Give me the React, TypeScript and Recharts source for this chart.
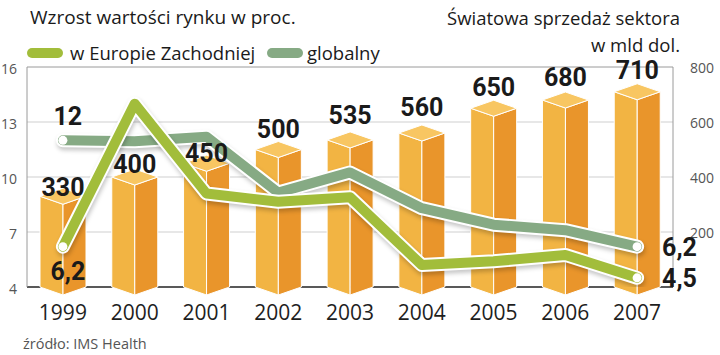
import React from 'react';
import { ComposedChart, Bar, Line, XAxis, YAxis, CartesianGrid, LabelList } from 'recharts';

const years = ['1999', '2000', '2001', '2002', '2003', '2004', '2005', '2006', '2007'];
const salesBn = [330, 400, 450, 500, 535, 560, 650, 680, 710];
const growthWestEurope = [6.2, 14, 9.1, 8.65, 8.9, 5.2, 5.4, 5.75, 4.5];
const growthGlobal = [12, 11.95, 12.2, 9.15, 10.25, 8.3, 7.4, 7.1, 6.2];
const leftTicks = [4, 7, 10, 13, 16];
const rightTicks = [200, 400, 600, 800];

const data = years.map((year, i) => ({
  year,
  sales: salesBn[i],
  europe: growthWestEurope[i],
  global: growthGlobal[i],
}));

// layout constants (label gaps above bars)
const barLabelGap = [0, 4, 1, 12, 16, 17, 12, 14, 13];

const FONT = "'Open Sans', Roboto, 'Liberation Sans', Arial, sans-serif";
const BOLD = "Roboto, 'Liberation Sans', Arial, sans-serif";
const EUROPE = '#A2BD3B';
const GLOBAL = '#86AA84';
const LAST = years.length - 1;

const fmt = (v: number) => String(v).replace('.', ',');

const Box3D = (props: any) => {
  const { x, y, width, height } = props;
  if (width == null || height == null) return null;
  const d = 8;
  const cx = x + width / 2;
  const base = y + height;
  const r = x + width;
  return (
    <g>
      <polygon
        points={`${x},${y} ${cx},${y + d} ${cx},${base + d} ${x},${base}`}
        fill="#F2B443"
        stroke="#fff"
        strokeWidth={1}
      />
      <polygon
        points={`${cx},${y + d} ${r},${y} ${r},${base} ${cx},${base + d}`}
        fill="#E9952B"
        stroke="#fff"
        strokeWidth={1}
      />
      <polygon
        points={`${x},${y} ${cx},${y - d} ${r},${y} ${cx},${y + d}`}
        fill="#F8C662"
        stroke="#fff"
        strokeWidth={1}
      />
    </g>
  );
};

const BarLabel = (p: any) => {
  const { x, y, width, value, index } = p;
  return (
    <text
      x={x + width / 2}
      y={y - barLabelGap[index]}
      textAnchor="middle"
      fontFamily={BOLD}
      fontWeight={700}
      fontSize={25}
      fill="#1a1a1a"
    >
      {value}
    </text>
  );
};

const makeLineLabel = (above: boolean) => (p: any) => {
  const { x, y, value, index } = p;
  if (index === 0) {
    return (
      <text
        x={x + 5}
        y={above ? y - 15 : y + 33}
        textAnchor="middle"
        fontFamily={BOLD}
        fontWeight={700}
        fontSize={25}
        fill="#1a1a1a"
      >
        {fmt(value)}
      </text>
    );
  }
  if (index === LAST) {
    return (
      <text
        x={x + 25}
        y={y + 9}
        textAnchor="start"
        fontFamily={BOLD}
        fontWeight={700}
        fontSize={25}
        fill="#1a1a1a"
      >
        {fmt(value)}
      </text>
    );
  }
  return null;
};

const endDot = (p: any) => {
  const { cx, cy, index } = p;
  if (index === 0 || index === LAST) {
    return <circle key={`d${index}`} cx={cx} cy={cy} r={4.5} fill="#fff" stroke="none" />;
  }
  return <g key={`d${index}`} />;
};

const LeftTick = (p: any) => (
  <text x={p.x - 10} y={p.y + 7} textAnchor="end" fontFamily={FONT} fontSize={14} fill="#555">
    {p.payload.value}
  </text>
);

const RightTick = (p: any) => (
  <text x={p.x + 17} y={p.y + 6} textAnchor="start" fontFamily={FONT} fontSize={14} fill="#555">
    {p.payload.value}
  </text>
);

const XTick = (p: any) => (
  <text x={p.x} y={p.y + 33} textAnchor="middle" fontFamily={FONT} fontSize={21} fontWeight={500} fill="#1e1e1e">
    {p.payload.value}
  </text>
);

const shadow = { filter: 'drop-shadow(1px 3px 2px rgba(0,0,0,0.22))' };

export default function App() {
  return (
    <div style={{ position: 'absolute', left: 0, top: 0, width: 720, height: 355, background: '#fff' }}>
      <ComposedChart
        width={720}
        height={355}
        data={data}
        margin={{ top: 67, right: 0, bottom: 38, left: 0 }}
        barCategoryGap={0}
      >
        <CartesianGrid yAxisId="left" vertical={false} horizontalValues={[7, 10, 13]} stroke="#cfcfcf" />
        <CartesianGrid yAxisId="left" vertical={false} horizontalValues={[16]} stroke="#9a9a9a" />
        <CartesianGrid yAxisId="left" vertical={false} horizontalValues={[4]} stroke="#222" strokeWidth={1.5} />
        <XAxis dataKey="year" axisLine={false} tickLine={false} tickSize={0} tickMargin={0} height={30} tick={<XTick />} interval={0} />
        <YAxis
          yAxisId="left"
          orientation="left"
          domain={[4, 16]}
          ticks={leftTicks}
          width={27}
          axisLine={{ stroke: '#9a9a9a' }}
          tickLine={false}
          tickSize={0}
          tickMargin={0}
          tick={<LeftTick />}
          allowDataOverflow
        />
        <YAxis
          yAxisId="right"
          orientation="right"
          domain={[0, 800]}
          ticks={rightTicks}
          width={47}
          axisLine={{ stroke: '#9a9a9a' }}
          tickLine={false}
          tickSize={0}
          tickMargin={0}
          tick={<RightTick />}
        />
        <Bar yAxisId="right" dataKey="sales" barSize={46} shape={<Box3D />} isAnimationActive={false}>
          <LabelList dataKey="sales" content={<BarLabel />} />
        </Bar>
        <Line yAxisId="left" type="linear" dataKey="global" stroke="#fff" strokeWidth={14} strokeLinecap="round" strokeLinejoin="round" dot={false} activeDot={false} isAnimationActive={false} style={shadow} />
        <Line yAxisId="left" type="linear" dataKey="global" stroke={GLOBAL} strokeWidth={10} strokeLinecap="round" strokeLinejoin="round" dot={endDot} activeDot={false} isAnimationActive={false}>
          <LabelList dataKey="global" content={makeLineLabel(true)} />
        </Line>
        <Line yAxisId="left" type="linear" dataKey="europe" stroke="#fff" strokeWidth={14} strokeLinecap="round" strokeLinejoin="round" dot={false} activeDot={false} isAnimationActive={false} style={shadow} />
        <Line yAxisId="left" type="linear" dataKey="europe" stroke={EUROPE} strokeWidth={10} strokeLinecap="round" strokeLinejoin="round" dot={endDot} activeDot={false} isAnimationActive={false}>
          <LabelList dataKey="europe" content={makeLineLabel(false)} />
        </Line>
      </ComposedChart>
      <svg width={720} height={355} style={{ position: 'absolute', left: 0, top: 0, pointerEvents: 'none' }}>
        <text x={30} y={24} fontFamily={FONT} fontSize={19} fill="#1a1a1a">
          Wzrost wartości rynku w proc.
        </text>
        <text x={680} y={25} textAnchor="end" fontFamily={FONT} fontSize={18.5} fill="#1a1a1a">
          Światowa sprzedaż sektora
        </text>
        <text x={680} y={52} textAnchor="end" fontFamily={FONT} fontSize={18.5} fill="#1a1a1a">
          w mld dol.
        </text>
        <rect x={27} y={48} width={36} height={10} rx={5} fill={EUROPE} />
        <text x={70} y={60} fontFamily={FONT} fontSize={18.5} fill="#1a1a1a">
          w Europie Zachodniej
        </text>
        <rect x={267} y={48} width={36} height={10} rx={5} fill={GLOBAL} />
        <text x={307} y={60} fontFamily={FONT} fontSize={18.5} fill="#1a1a1a">
          globalny
        </text>
        <text x={23} y={349} fontFamily={FONT} fontSize={14.5} fill="#555">
          źródło: IMS Health
        </text>
      </svg>
    </div>
  );
}
